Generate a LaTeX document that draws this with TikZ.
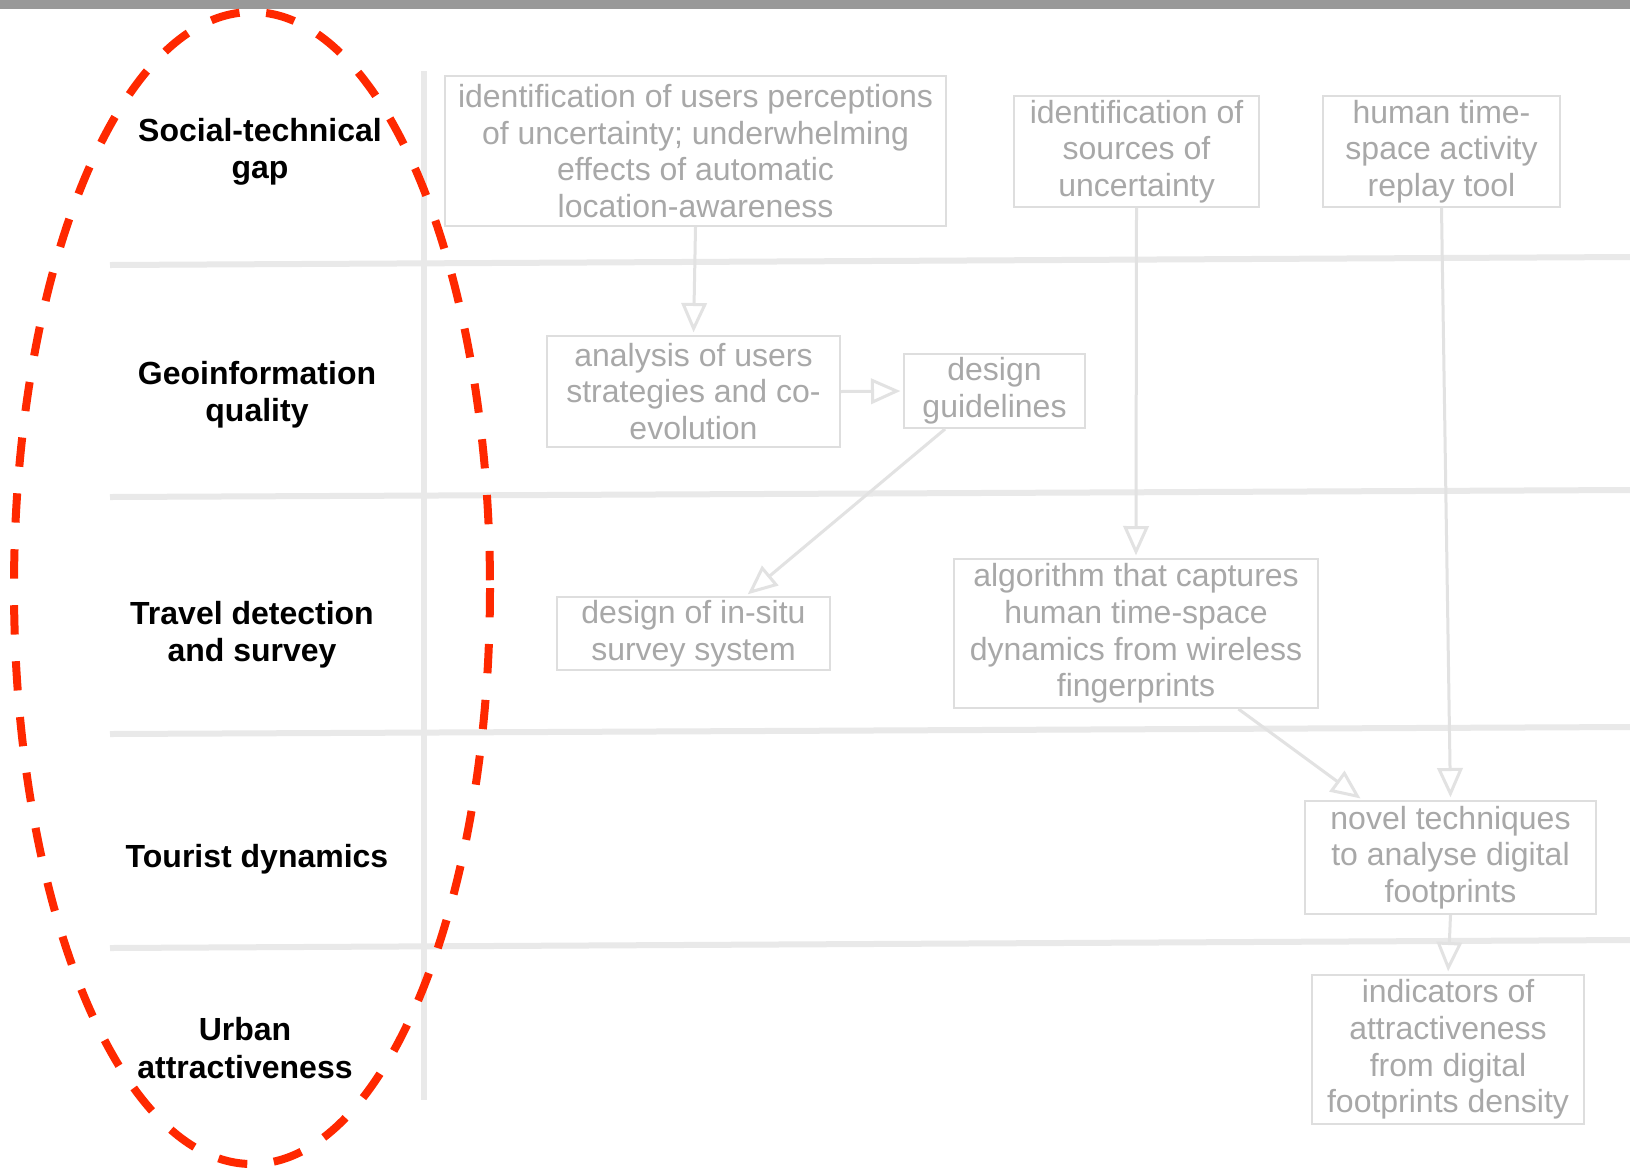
\documentclass[tikz,border=0pt]{standalone}
\usepackage{fontspec}
\setmainfont{Liberation Sans}
\usetikzlibrary{arrows.meta,calc}
\definecolor{topbar}{RGB}{153,153,153}
\definecolor{gridgray}{RGB}{233,233,233}
\definecolor{boxgray}{RGB}{222,222,222}
\definecolor{arrowgray}{RGB}{226,226,226}
\definecolor{textgray}{RGB}{168,168,168}
\definecolor{redline}{RGB}{255,40,0}
\begin{document}
\begin{tikzpicture}[x=0.75pt,y=-0.75pt,
  gridline/.style={line width=4.5pt, draw=gridgray},
  rowlabel/.style={font=\bfseries\fontsize{24}{28}\selectfont, align=center, text=black, inner sep=0pt},
  itembox/.style={draw=boxgray, line width=1.5pt, fill=white, text=textgray,
    font=\fontsize{24}{27.5}\selectfont, align=center, inner sep=0pt},
  flow/.style={draw=arrowgray, line width=2.25pt, shorten >=2pt,
    -{Triangle[open,length=22pt,width=19pt]}}]

\useasboundingbox (0,0) rectangle (1630,1172);
\fill[white] (0,0) rectangle (1630,1172);
\fill[topbar] (0,0) rectangle (1630,9);

% row separators and label column rule
\draw[gridline] (110,265) -- (1630,257);
\draw[gridline] (110,497) -- (1630,490);
\draw[gridline] (110,734) -- (1630,727);
\draw[gridline] (110,948) -- (1630,940);
\draw[gridline] (424,71) -- (424,1100);

% row labels
\node[rowlabel] (rsoc) at (260,152) {Social-technical\\gap};
\node[rowlabel] (rgeo) at (257,395) {Geoinformation\\quality};
\node[rowlabel] (rtra) at (252,635) {Travel detection\\and survey};
\node[rowlabel] (rtou) at (257,859) {Tourist dynamics};
\node[rowlabel] (rurb) at (245,1048) {Urban\\attractiveness};

% research items
\node[itembox, minimum width=375.75pt, minimum height=112.5pt] (b1) at (695.5,151)
  {identification of users perceptions\\of uncertainty; underwhelming\\effects of automatic\\location-awareness};
\node[itembox, minimum width=183.75pt, minimum height=83.25pt] (b2) at (1136.5,151.5)
  {identification of\\sources of\\uncertainty};
\node[itembox, minimum width=177.75pt, minimum height=83.25pt] (b3) at (1441.5,151.5)
  {human time-\\space activity\\replay tool};
\node[itembox, minimum width=219.75pt, minimum height=83.25pt] (b4) at (693.5,391.5)
  {analysis of users\\strategies and co-\\evolution};
\node[itembox, minimum width=135.75pt, minimum height=55.5pt] (b5) at (994.5,391)
  {design\\guidelines};
\node[itembox, minimum width=204.75pt, minimum height=54.75pt] (b6) at (693.5,633.5)
  {design of in-situ\\survey system};
\node[itembox, minimum width=273pt, minimum height=111.75pt] (b7) at (1136,633.5)
  {algorithm that captures\\human time-space\\dynamics from wireless\\fingerprints};
\node[itembox, minimum width=218.25pt, minimum height=84.75pt] (b8) at (1450.5,857.5)
  {novel techniques\\to analyse digital\\footprints};
\node[itembox, minimum width=204pt, minimum height=111.75pt] (b9) at (1448,1049.5)
  {indicators of\\attractiveness\\from digital\\footprints density};

% dependencies
\draw[flow] (b1.south) -- (b4.north);
\draw[flow] (b4.east) -- (b5.west);
\draw[flow] ($(b5.south west)!0.23!(b5.south east)$) -- ($(b6.north west)!0.69!(b6.north east)$);
\draw[flow] (b2.south) -- (b7.north);
\draw[flow] (b3.south) -- (b8.north);
\draw[flow] ($(b7.south west)!0.78!(b7.south east)$) -- ($(b8.north west)!0.2!(b8.north east)$);
\draw[flow] (b8.south) -- (b9.north);

% highlight around the label column
\draw[redline, line width=6pt, dash pattern=on 22pt off 20pt]
  (252,588) ellipse [x radius=238, y radius=576];
\end{tikzpicture}
\end{document}
